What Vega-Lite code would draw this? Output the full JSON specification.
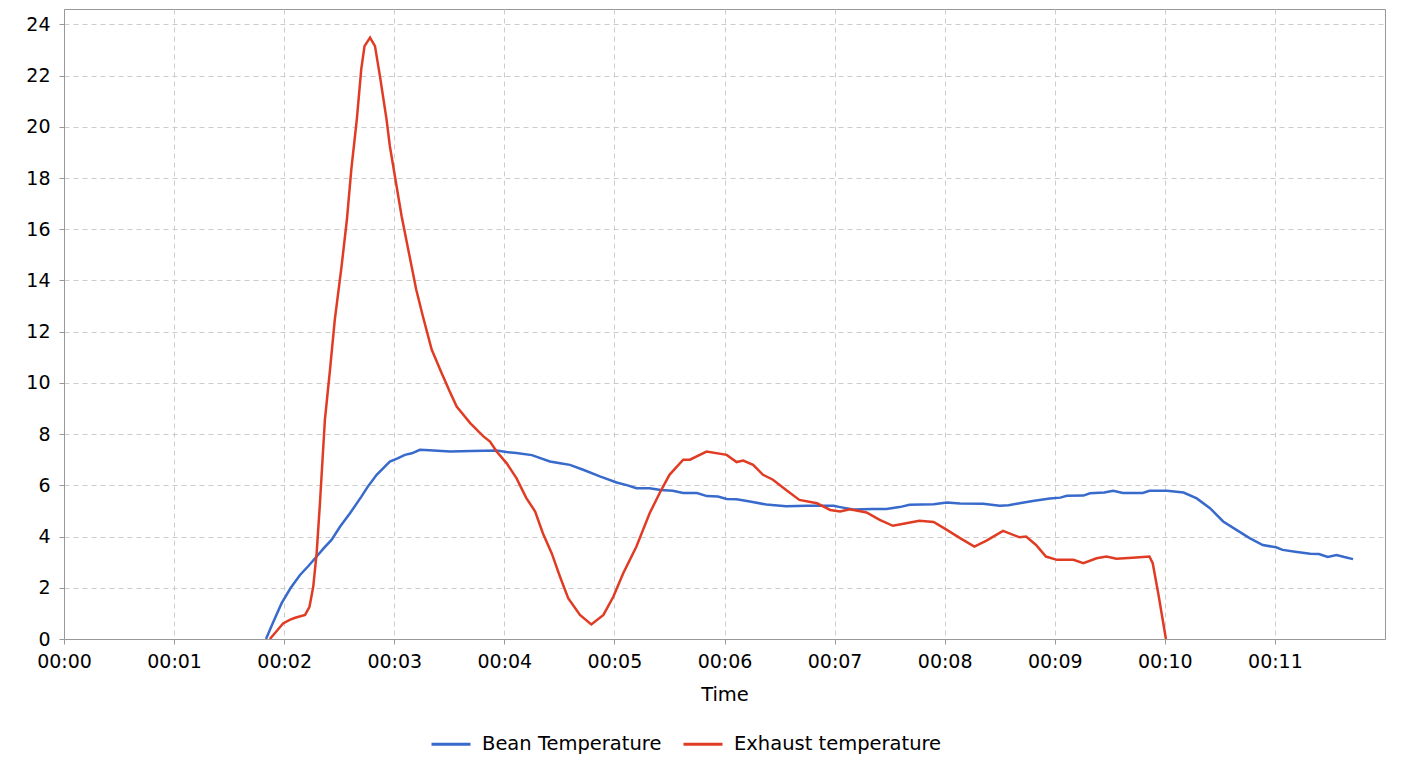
{
  "$schema": "https://vega.github.io/schema/vega-lite/v6.json",
  "width": 1321,
  "height": 630,
  "autosize": {"type": "none"},
  "padding": {"left": 64, "top": 9, "right": 17, "bottom": 145},
  "background": "white",
  "data": {
    "values": [
      {"t": 1.835, "v": 0, "s": "Bean Temperature"},
      {"t": 1.9, "v": 0.65, "s": "Bean Temperature"},
      {"t": 1.977, "v": 1.4, "s": "Bean Temperature"},
      {"t": 2.06, "v": 2.0, "s": "Bean Temperature"},
      {"t": 2.144, "v": 2.5, "s": "Bean Temperature"},
      {"t": 2.22, "v": 2.85, "s": "Bean Temperature"},
      {"t": 2.295, "v": 3.22, "s": "Bean Temperature"},
      {"t": 2.36, "v": 3.55, "s": "Bean Temperature"},
      {"t": 2.43, "v": 3.87, "s": "Bean Temperature"},
      {"t": 2.51, "v": 4.4, "s": "Bean Temperature"},
      {"t": 2.598, "v": 4.91, "s": "Bean Temperature"},
      {"t": 2.7, "v": 5.55, "s": "Bean Temperature"},
      {"t": 2.76, "v": 5.95, "s": "Bean Temperature"},
      {"t": 2.84, "v": 6.41, "s": "Bean Temperature"},
      {"t": 2.96, "v": 6.93, "s": "Bean Temperature"},
      {"t": 3.03, "v": 7.05, "s": "Bean Temperature"},
      {"t": 3.097, "v": 7.19, "s": "Bean Temperature"},
      {"t": 3.16, "v": 7.25, "s": "Bean Temperature"},
      {"t": 3.233, "v": 7.39, "s": "Bean Temperature"},
      {"t": 3.32, "v": 7.37, "s": "Bean Temperature"},
      {"t": 3.506, "v": 7.32, "s": "Bean Temperature"},
      {"t": 3.7, "v": 7.34, "s": "Bean Temperature"},
      {"t": 3.93, "v": 7.36, "s": "Bean Temperature"},
      {"t": 4.02, "v": 7.3, "s": "Bean Temperature"},
      {"t": 4.11, "v": 7.26, "s": "Bean Temperature"},
      {"t": 4.25, "v": 7.18, "s": "Bean Temperature"},
      {"t": 4.414, "v": 6.93, "s": "Bean Temperature"},
      {"t": 4.52, "v": 6.85, "s": "Bean Temperature"},
      {"t": 4.596, "v": 6.8, "s": "Bean Temperature"},
      {"t": 4.716, "v": 6.61, "s": "Bean Temperature"},
      {"t": 4.868, "v": 6.35, "s": "Bean Temperature"},
      {"t": 5.02, "v": 6.11, "s": "Bean Temperature"},
      {"t": 5.12, "v": 6.0, "s": "Bean Temperature"},
      {"t": 5.2, "v": 5.89, "s": "Bean Temperature"},
      {"t": 5.32, "v": 5.89, "s": "Bean Temperature"},
      {"t": 5.42, "v": 5.82, "s": "Bean Temperature"},
      {"t": 5.53, "v": 5.79, "s": "Bean Temperature"},
      {"t": 5.625, "v": 5.7, "s": "Bean Temperature"},
      {"t": 5.75, "v": 5.7, "s": "Bean Temperature"},
      {"t": 5.84, "v": 5.58, "s": "Bean Temperature"},
      {"t": 5.94, "v": 5.56, "s": "Bean Temperature"},
      {"t": 6.02, "v": 5.47, "s": "Bean Temperature"},
      {"t": 6.11, "v": 5.46, "s": "Bean Temperature"},
      {"t": 6.23, "v": 5.37, "s": "Bean Temperature"},
      {"t": 6.38, "v": 5.25, "s": "Bean Temperature"},
      {"t": 6.56, "v": 5.18, "s": "Bean Temperature"},
      {"t": 6.75, "v": 5.2, "s": "Bean Temperature"},
      {"t": 6.99, "v": 5.2, "s": "Bean Temperature"},
      {"t": 7.05, "v": 5.15, "s": "Bean Temperature"},
      {"t": 7.17, "v": 5.06, "s": "Bean Temperature"},
      {"t": 7.35, "v": 5.08, "s": "Bean Temperature"},
      {"t": 7.47, "v": 5.08, "s": "Bean Temperature"},
      {"t": 7.59, "v": 5.15, "s": "Bean Temperature"},
      {"t": 7.68, "v": 5.24, "s": "Bean Temperature"},
      {"t": 7.9, "v": 5.26, "s": "Bean Temperature"},
      {"t": 8.02, "v": 5.33, "s": "Bean Temperature"},
      {"t": 8.14, "v": 5.29, "s": "Bean Temperature"},
      {"t": 8.35, "v": 5.28, "s": "Bean Temperature"},
      {"t": 8.5, "v": 5.2, "s": "Bean Temperature"},
      {"t": 8.58, "v": 5.22, "s": "Bean Temperature"},
      {"t": 8.68, "v": 5.3, "s": "Bean Temperature"},
      {"t": 8.8, "v": 5.39, "s": "Bean Temperature"},
      {"t": 8.955, "v": 5.49, "s": "Bean Temperature"},
      {"t": 9.05, "v": 5.52, "s": "Bean Temperature"},
      {"t": 9.11, "v": 5.59, "s": "Bean Temperature"},
      {"t": 9.26, "v": 5.6, "s": "Bean Temperature"},
      {"t": 9.32, "v": 5.69, "s": "Bean Temperature"},
      {"t": 9.45, "v": 5.72, "s": "Bean Temperature"},
      {"t": 9.53, "v": 5.79, "s": "Bean Temperature"},
      {"t": 9.62, "v": 5.7, "s": "Bean Temperature"},
      {"t": 9.8, "v": 5.7, "s": "Bean Temperature"},
      {"t": 9.86, "v": 5.79, "s": "Bean Temperature"},
      {"t": 10.02, "v": 5.79, "s": "Bean Temperature"},
      {"t": 10.17, "v": 5.72, "s": "Bean Temperature"},
      {"t": 10.29, "v": 5.49, "s": "Bean Temperature"},
      {"t": 10.41, "v": 5.11, "s": "Bean Temperature"},
      {"t": 10.53, "v": 4.59, "s": "Bean Temperature"},
      {"t": 10.65, "v": 4.26, "s": "Bean Temperature"},
      {"t": 10.77, "v": 3.94, "s": "Bean Temperature"},
      {"t": 10.89, "v": 3.67, "s": "Bean Temperature"},
      {"t": 11.01, "v": 3.58, "s": "Bean Temperature"},
      {"t": 11.07, "v": 3.48, "s": "Bean Temperature"},
      {"t": 11.2, "v": 3.4, "s": "Bean Temperature"},
      {"t": 11.32, "v": 3.33, "s": "Bean Temperature"},
      {"t": 11.4, "v": 3.32, "s": "Bean Temperature"},
      {"t": 11.48, "v": 3.2, "s": "Bean Temperature"},
      {"t": 11.56, "v": 3.28, "s": "Bean Temperature"},
      {"t": 11.63, "v": 3.2, "s": "Bean Temperature"},
      {"t": 11.71, "v": 3.12, "s": "Bean Temperature"},
      {"t": 1.87, "v": 0, "s": "Exhaust temperature"},
      {"t": 1.94, "v": 0.35, "s": "Exhaust temperature"},
      {"t": 1.99, "v": 0.61, "s": "Exhaust temperature"},
      {"t": 2.05, "v": 0.75, "s": "Exhaust temperature"},
      {"t": 2.1, "v": 0.83, "s": "Exhaust temperature"},
      {"t": 2.19, "v": 0.94, "s": "Exhaust temperature"},
      {"t": 2.23, "v": 1.26, "s": "Exhaust temperature"},
      {"t": 2.264, "v": 2.04, "s": "Exhaust temperature"},
      {"t": 2.295, "v": 3.35, "s": "Exhaust temperature"},
      {"t": 2.325, "v": 5.3, "s": "Exhaust temperature"},
      {"t": 2.37, "v": 8.56, "s": "Exhaust temperature"},
      {"t": 2.416, "v": 10.5, "s": "Exhaust temperature"},
      {"t": 2.46, "v": 12.47, "s": "Exhaust temperature"},
      {"t": 2.52, "v": 14.5, "s": "Exhaust temperature"},
      {"t": 2.57, "v": 16.38, "s": "Exhaust temperature"},
      {"t": 2.61, "v": 18.34, "s": "Exhaust temperature"},
      {"t": 2.66, "v": 20.29, "s": "Exhaust temperature"},
      {"t": 2.7, "v": 22.24, "s": "Exhaust temperature"},
      {"t": 2.73, "v": 23.15, "s": "Exhaust temperature"},
      {"t": 2.78, "v": 23.48, "s": "Exhaust temperature"},
      {"t": 2.825, "v": 23.15, "s": "Exhaust temperature"},
      {"t": 2.87, "v": 21.98, "s": "Exhaust temperature"},
      {"t": 2.93, "v": 20.29, "s": "Exhaust temperature"},
      {"t": 2.96, "v": 19.25, "s": "Exhaust temperature"},
      {"t": 3.006, "v": 18.07, "s": "Exhaust temperature"},
      {"t": 3.067, "v": 16.51, "s": "Exhaust temperature"},
      {"t": 3.127, "v": 15.21, "s": "Exhaust temperature"},
      {"t": 3.2, "v": 13.64, "s": "Exhaust temperature"},
      {"t": 3.26, "v": 12.6, "s": "Exhaust temperature"},
      {"t": 3.34, "v": 11.3, "s": "Exhaust temperature"},
      {"t": 3.43, "v": 10.39, "s": "Exhaust temperature"},
      {"t": 3.5, "v": 9.7, "s": "Exhaust temperature"},
      {"t": 3.567, "v": 9.08, "s": "Exhaust temperature"},
      {"t": 3.69, "v": 8.43, "s": "Exhaust temperature"},
      {"t": 3.81, "v": 7.91, "s": "Exhaust temperature"},
      {"t": 3.87, "v": 7.71, "s": "Exhaust temperature"},
      {"t": 3.93, "v": 7.32, "s": "Exhaust temperature"},
      {"t": 4.02, "v": 6.87, "s": "Exhaust temperature"},
      {"t": 4.11, "v": 6.28, "s": "Exhaust temperature"},
      {"t": 4.2, "v": 5.5, "s": "Exhaust temperature"},
      {"t": 4.28, "v": 4.98, "s": "Exhaust temperature"},
      {"t": 4.35, "v": 4.13, "s": "Exhaust temperature"},
      {"t": 4.43, "v": 3.35, "s": "Exhaust temperature"},
      {"t": 4.505, "v": 2.44, "s": "Exhaust temperature"},
      {"t": 4.58, "v": 1.59, "s": "Exhaust temperature"},
      {"t": 4.687, "v": 0.94, "s": "Exhaust temperature"},
      {"t": 4.79, "v": 0.57, "s": "Exhaust temperature"},
      {"t": 4.9, "v": 0.94, "s": "Exhaust temperature"},
      {"t": 4.99, "v": 1.65, "s": "Exhaust temperature"},
      {"t": 5.08, "v": 2.57, "s": "Exhaust temperature"},
      {"t": 5.2, "v": 3.61, "s": "Exhaust temperature"},
      {"t": 5.32, "v": 4.91, "s": "Exhaust temperature"},
      {"t": 5.41, "v": 5.69, "s": "Exhaust temperature"},
      {"t": 5.5, "v": 6.41, "s": "Exhaust temperature"},
      {"t": 5.625, "v": 7.0, "s": "Exhaust temperature"},
      {"t": 5.686, "v": 7.0, "s": "Exhaust temperature"},
      {"t": 5.837, "v": 7.32, "s": "Exhaust temperature"},
      {"t": 6.02, "v": 7.19, "s": "Exhaust temperature"},
      {"t": 6.11, "v": 6.91, "s": "Exhaust temperature"},
      {"t": 6.17, "v": 6.97, "s": "Exhaust temperature"},
      {"t": 6.26, "v": 6.8, "s": "Exhaust temperature"},
      {"t": 6.35, "v": 6.41, "s": "Exhaust temperature"},
      {"t": 6.44, "v": 6.22, "s": "Exhaust temperature"},
      {"t": 6.56, "v": 5.82, "s": "Exhaust temperature"},
      {"t": 6.68, "v": 5.43, "s": "Exhaust temperature"},
      {"t": 6.84, "v": 5.3, "s": "Exhaust temperature"},
      {"t": 6.96, "v": 5.04, "s": "Exhaust temperature"},
      {"t": 7.05, "v": 4.98, "s": "Exhaust temperature"},
      {"t": 7.14, "v": 5.07, "s": "Exhaust temperature"},
      {"t": 7.29, "v": 4.94, "s": "Exhaust temperature"},
      {"t": 7.41, "v": 4.65, "s": "Exhaust temperature"},
      {"t": 7.53, "v": 4.42, "s": "Exhaust temperature"},
      {"t": 7.65, "v": 4.52, "s": "Exhaust temperature"},
      {"t": 7.77, "v": 4.62, "s": "Exhaust temperature"},
      {"t": 7.9, "v": 4.57, "s": "Exhaust temperature"},
      {"t": 8.02, "v": 4.26, "s": "Exhaust temperature"},
      {"t": 8.14, "v": 3.94, "s": "Exhaust temperature"},
      {"t": 8.27, "v": 3.61, "s": "Exhaust temperature"},
      {"t": 8.38, "v": 3.84, "s": "Exhaust temperature"},
      {"t": 8.53, "v": 4.22, "s": "Exhaust temperature"},
      {"t": 8.68, "v": 3.97, "s": "Exhaust temperature"},
      {"t": 8.74, "v": 4.0, "s": "Exhaust temperature"},
      {"t": 8.83, "v": 3.67, "s": "Exhaust temperature"},
      {"t": 8.92, "v": 3.22, "s": "Exhaust temperature"},
      {"t": 9.02, "v": 3.09, "s": "Exhaust temperature"},
      {"t": 9.17, "v": 3.09, "s": "Exhaust temperature"},
      {"t": 9.26, "v": 2.96, "s": "Exhaust temperature"},
      {"t": 9.38, "v": 3.15, "s": "Exhaust temperature"},
      {"t": 9.47, "v": 3.22, "s": "Exhaust temperature"},
      {"t": 9.56, "v": 3.13, "s": "Exhaust temperature"},
      {"t": 9.74, "v": 3.18, "s": "Exhaust temperature"},
      {"t": 9.86, "v": 3.22, "s": "Exhaust temperature"},
      {"t": 9.89, "v": 2.96, "s": "Exhaust temperature"},
      {"t": 9.94, "v": 1.79, "s": "Exhaust temperature"},
      {"t": 10.01, "v": 0, "s": "Exhaust temperature"}
    ]
  },
  "mark": {"type": "line", "strokeWidth": 2.5, "interpolate": "linear", "clip": true},
  "encoding": {
    "x": {
      "field": "t",
      "type": "quantitative",
      "title": "Time",
      "scale": {"domain": [0, 12], "nice": false, "zero": false},
      "axis": {
        "values": [0, 1, 2, 3, 4, 5, 6, 7, 8, 9, 10, 11],
        "labelExpr": "datum.value < 10 ? '00:0' + datum.value : '00:' + datum.value",
        "labelFlush": false,
        "labelPadding": 8,
        "titlePadding": 14
      }
    },
    "y": {
      "field": "v",
      "type": "quantitative",
      "title": null,
      "scale": {"domain": [0, 24.6], "nice": false},
      "axis": {"values": [0, 2, 4, 6, 8, 10, 12, 14, 16, 18, 20, 22, 24], "labelPadding": 9}
    },
    "color": {
      "field": "s",
      "type": "nominal",
      "title": null,
      "scale": {
        "domain": ["Bean Temperature", "Exhaust temperature"],
        "range": ["#386acc", "#e03c24"]
      },
      "legend": {
        "orient": "none",
        "legendX": 366,
        "legendY": 714,
        "direction": "horizontal",
        "symbolType": "stroke",
        "symbolSize": 1521,
        "symbolStrokeWidth": 3,
        "labelFontSize": 19.5,
        "labelColor": "black",
        "labelLimit": 400,
        "labelOffset": 10,
        "columnPadding": 15
      }
    }
  },
  "config": {
    "font": "DejaVu Sans",
    "view": {"stroke": "#999999", "strokeWidth": 1},
    "axis": {
      "labelFontSize": 19,
      "labelColor": "black",
      "titleFontSize": 19.5,
      "titleFontWeight": "normal",
      "titleColor": "black",
      "grid": true,
      "gridColor": "#cccccc",
      "gridDash": [5, 4],
      "gridWidth": 1,
      "domainColor": "#999999",
      "tickColor": "#999999",
      "tickSize": 5
    }
  }
}
